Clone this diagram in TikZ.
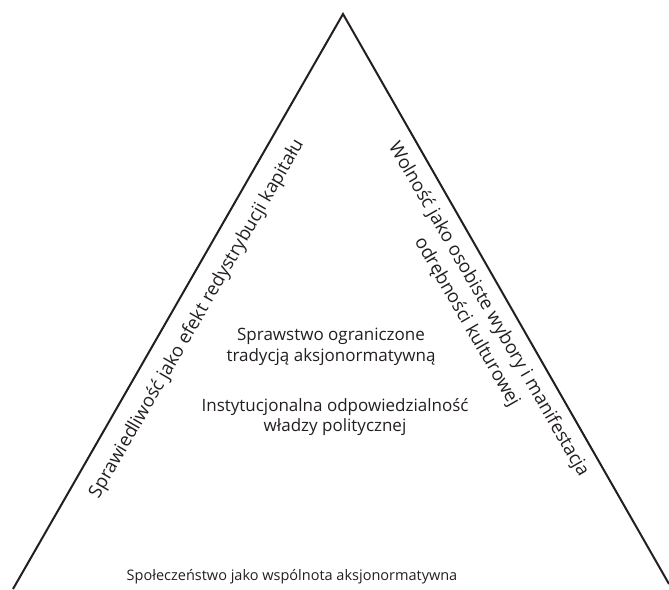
\documentclass[tikz,border=0pt]{standalone}
\usepackage{fontspec}
\setmainfont{Open Sans}
\definecolor{ink}{HTML}{231F20}
\begin{document}
\begin{tikzpicture}[x=1pt,y=-1pt,
  edge/.style={draw=ink,line width=2pt},
  lbl/.style={text=ink,font=\fontsize{17}{20.5}\selectfont,align=center,inner sep=0pt},
  base/.style={text=ink,font=\fontsize{14.5}{19}\selectfont,align=center,inner sep=0pt},
  side/.style={text=ink,font=\fontsize{18.5}{25}\selectfont,align=center,inner sep=0pt}]
\useasboundingbox (0,0) rectangle (669,589);
\coordinate (apex) at (343,14);
\coordinate (bl) at (13,589);
\coordinate (br) at (669,584);
\draw[edge] (bl) -- (apex) -- (br);
\node[side,rotate=60] (left) at (197,319) {Sprawiedliwość jako efekt redystrybucji kapitału};
\node[side,rotate=-60] (right) at (477.5,316) {Wolność jako osobiste wybory i manifestacja\\odrębności kulturowej};
\node[lbl] (c1) at (331,347) {Sprawstwo ograniczone\\tradycją aksjonormatywną};
\node[lbl] (c2) at (335,417) {Instytucjonalna odpowiedzialność\\władzy politycznej};
\node[base] (bottom) at (292,577) {Społeczeństwo jako wspólnota aksjonormatywna};
\end{tikzpicture}
\end{document}
